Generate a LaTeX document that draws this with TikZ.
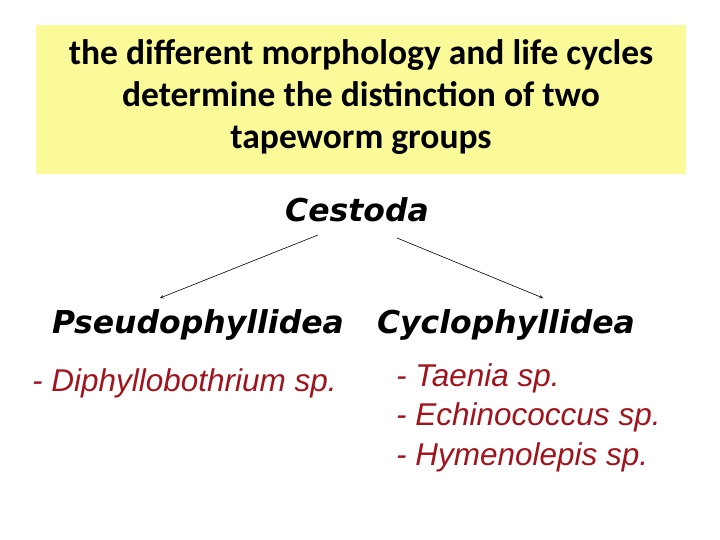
\documentclass[tikz,border=0pt]{standalone}
\usepackage{fontspec}
\setmainfont{Liberation Sans}
\newfontfamily\titlef{Carlito}
\newfontfamily\headf{DejaVu Sans}
\definecolor{boxy}{HTML}{FAFA98}
\definecolor{dred}{HTML}{A0141E}
\begin{document}
\begin{tikzpicture}[x=1pt,y=-1pt,
  ttl/.style={font=\titlef\bfseries\fontsize{35.5}{42}\selectfont,align=center,inner sep=0},
  grp/.style={font=\headf\bfseries\itshape\fontsize{31.5}{32}\selectfont,inner sep=0},
  sp/.style={font=\itshape\fontsize{31.5}{39.5}\selectfont,text=dred,align=left,inner sep=0},
  arr/.style={-stealth,semithick}]
\useasboundingbox (0,0) rectangle (720,540);
\fill[boxy] (36,25) rectangle (686,174);
\node[ttl] (t) at (361,97) {the different morphology and life cycles\\determine the distinction of two\\tapeworm groups};
\node[grp] (c) at (357,210) {Cestoda};
\node[grp] (p) at (198,325) {Pseudophyllidea};
\node[grp] (y) at (506,325) {Cyclophyllidea};
\node[sp,anchor=west] (d) at (32,383) {- Diphyllobothrium sp.};
\node[sp,anchor=north west] (l) at (396,363) {- Taenia sp.\\- Echinococcus sp.\\- Hymenolepis sp.};
\coordinate (a1) at (318,235); \coordinate (a2) at (160,298);
\coordinate (b1) at (397,238); \coordinate (b2) at (543,298);
\draw[arr] (a1) -- (a2);
\draw[arr] (b1) -- (b2);
\end{tikzpicture}
\end{document}
